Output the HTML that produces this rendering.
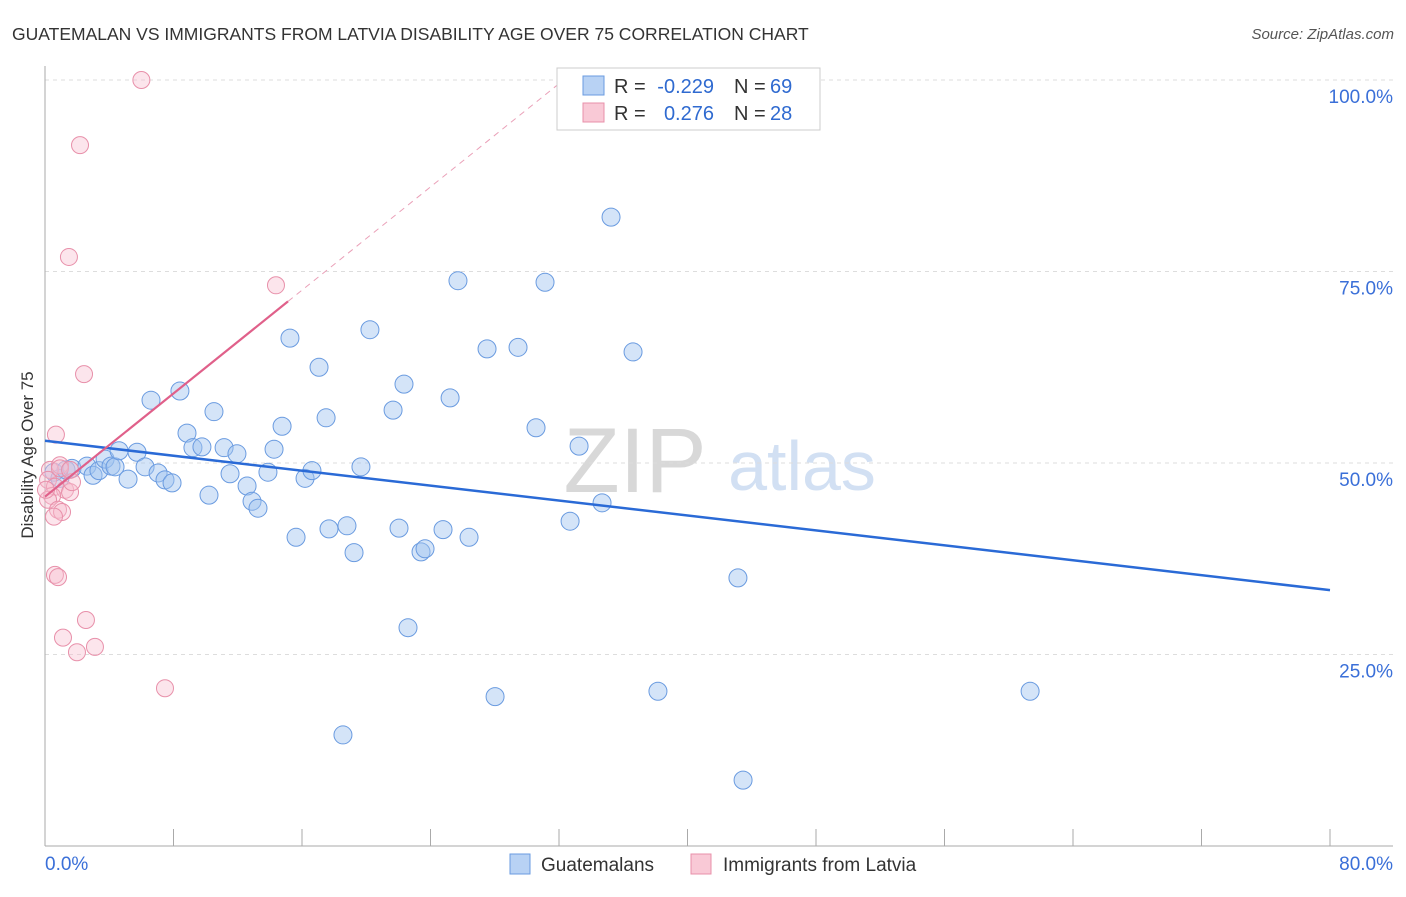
<!DOCTYPE html>
<html><head><meta charset="utf-8"><style>
body{margin:0;background:#fff;font-family:"Liberation Sans",sans-serif;}
svg text{font-family:"Liberation Sans",sans-serif;}
</style></head><body>
<svg id="c" width="1406" height="892">
<text x="12" y="40" font-size="17.5" fill="#333">GUATEMALAN VS IMMIGRANTS FROM LATVIA DISABILITY AGE OVER 75 CORRELATION CHART</text>
<text x="1394" y="39" font-size="15" fill="#555" text-anchor="end" font-style="italic">Source: ZipAtlas.com</text>
<g><text x="635" y="492" font-size="92" fill="#d8d8d8" text-anchor="middle" font-family="Liberation Serif,serif">ZIP</text><text x="802" y="490" font-size="70" fill="#d2e0f3" text-anchor="middle">atlas</text></g>
<g id="grid"></g><g id="axes"></g><g id="pts"></g><g id="lines"></g>
<text x="33" y="455" font-size="17" fill="#333" text-anchor="middle" transform="rotate(-90 33 455)">Disability Age Over 75</text>
<g>
<rect x="557" y="68" width="263" height="62" fill="#fff" stroke="#ccc"/>
<rect x="583" y="76" width="21" height="19" fill="#b8d2f4" stroke="#6a9be0"/>
<text x="614" y="93" font-size="20" fill="#333">R =</text>
<text x="714" y="93" font-size="20" fill="#2f6ad0" text-anchor="end">-0.229</text>
<text x="734" y="93" font-size="20" fill="#333">N =</text>
<text x="770" y="93" font-size="20" fill="#2f6ad0">69</text>
<rect x="583" y="103" width="21" height="19" fill="#f9c9d6" stroke="#e890aa"/>
<text x="614" y="120" font-size="20" fill="#333">R =</text>
<text x="714" y="120" font-size="20" fill="#2f6ad0" text-anchor="end">0.276</text>
<text x="734" y="120" font-size="20" fill="#333">N =</text>
<text x="770" y="120" font-size="20" fill="#2f6ad0">28</text>
</g>
<g>
<rect x="510" y="854" width="20" height="20" fill="#b8d2f4" stroke="#6a9be0"/>
<text x="541" y="871" font-size="19" fill="#333">Guatemalans</text>
<rect x="691" y="854" width="20" height="20" fill="#f9c9d6" stroke="#e890aa"/>
<text x="723" y="871" font-size="19" fill="#333">Immigrants from Latvia</text>
</g>
</svg>
<script>
const blueX=[0.56,0.93,1.31,1.68,2.61,2.99,3.36,3.74,4.11,4.36,4.61,5.17,5.73,6.23,6.6,7.04,7.47,7.91,8.4,8.84,9.21,9.77,10.21,10.52,11.15,11.52,11.95,12.58,12.89,13.26,13.88,14.26,14.76,15.25,15.63,16.19,16.62,17.06,17.5,17.68,18.55,18.8,19.24,19.67,20.23,21.67,22.04,22.35,22.6,23.41,23.66,24.78,25.22,25.71,26.4,27.52,28.02,29.45,30.57,31.13,32.69,33.25,34.68,35.24,36.61,38.16,43.14,43.46,61.33];
const blueY=[48.8,48.0,49.1,49.3,49.6,48.4,49.0,50.5,49.6,49.5,51.6,47.9,51.4,49.5,58.2,48.7,47.8,47.4,59.4,53.9,52.0,52.1,45.8,56.7,52.0,48.6,51.2,47.0,45.0,44.1,48.8,51.8,54.8,66.3,40.3,48.0,49.0,62.5,55.9,41.4,14.5,41.8,38.3,49.5,67.4,56.9,41.5,60.3,28.5,38.4,38.8,41.3,58.5,73.8,40.3,64.9,19.5,65.1,54.6,73.6,42.4,52.2,44.8,82.1,64.5,20.2,35.0,8.6,20.2];
const pinkX=[6.0,2.18,1.49,14.38,2.43,0.68,0.31,0.93,0.19,0.62,1.25,1.56,0.44,0.19,1.68,0.81,1.06,0.56,0.62,0.81,2.55,1.12,1.99,3.11,7.47,0.93,0.06,1.56];
const pinkY=[100.0,91.5,76.9,73.2,61.6,53.7,49.1,49.7,47.8,46.9,46.5,46.2,45.7,45.2,47.5,43.9,43.6,43.0,35.4,35.1,29.5,27.2,25.3,26.0,20.6,49.3,46.5,49.1];
const blueTrend=[52.9,33.4]; // y at x=0 and x=80
const pinkTrend=[45.6,1.685]; // intercept, slope
const yTicks=[25,50,75,100];
const xTickLabels=["0.0%","80.0%"];
const NS="http://www.w3.org/2000/svg";
const sx=v=>45+v*(1285/80), sy=v=>846-v*7.66;
function mk(t,a,p){const e=document.createElementNS(NS,t);for(const k in a)e.setAttribute(k,a[k]);p.appendChild(e);return e;}
const grid=document.getElementById('grid'),axes=document.getElementById('axes'),pts=document.getElementById('pts'),lines=document.getElementById('lines');
yTicks.forEach(t=>{const l=mk('line',{x1:45,x2:1393,y1:sy(t),y2:sy(t),stroke:'#ddd','stroke-dasharray':'4,4'},grid);


const tx=mk('text',{x:1393,y:sy(t)+23,'font-size':19,fill:'#3a6fd8','text-anchor':'end'},grid);tx.textContent=t.toFixed(1)+'%';

});
const ya=mk('line',{x1:45,x2:45,y1:66,y2:846,stroke:'#aaa'},axes);


const xa=mk('line',{x1:45,x2:1393,y1:846,y2:846,stroke:'#aaa'},axes);


for(let i=0;i<=10;i++){const t=mk('line',{x1:sx(i*8),x2:sx(i*8),y1:829,y2:846,stroke:'#aaa'},axes);

}
[[45,'start',0],[1393,'end',1]].forEach(([x,a,i])=>{const t=mk('text',{x:x,y:870,'font-size':19,fill:'#3a6fd8','text-anchor':a},axes);t.textContent=xTickLabels[i];

});
blueX.forEach((x,i)=>{const c=mk('circle',{cx:sx(x),cy:sy(blueY[i]),r:9,fill:'rgba(160,195,240,0.45)',stroke:'#6a9be0','stroke-width':1},pts);

});
pinkX.forEach((x,i)=>{const c=mk('circle',{cx:sx(x),cy:sy(pinkY[i]),r:8.5,fill:'rgba(248,190,208,0.4)',stroke:'#e890aa','stroke-width':1},pts);

});
const bl=mk('line',{x1:sx(0),y1:sy(blueTrend[0]),x2:sx(80),y2:sy(blueTrend[1]),stroke:'#2a6ad6','stroke-width':2.5},lines);


const pe=15.13, pd=32;
const pl=mk('line',{x1:sx(0),y1:sy(pinkTrend[0]),x2:sx(pe),y2:sy(pinkTrend[0]+pinkTrend[1]*pe),stroke:'#e0608a','stroke-width':2.2},lines);


const pdl=mk('line',{x1:sx(pe),y1:sy(pinkTrend[0]+pinkTrend[1]*pe),x2:sx(pd),y2:sy(pinkTrend[0]+pinkTrend[1]*pd),stroke:'#eaa0b8','stroke-width':1,'stroke-dasharray':'6,5'},lines);


</script>
</body></html>
